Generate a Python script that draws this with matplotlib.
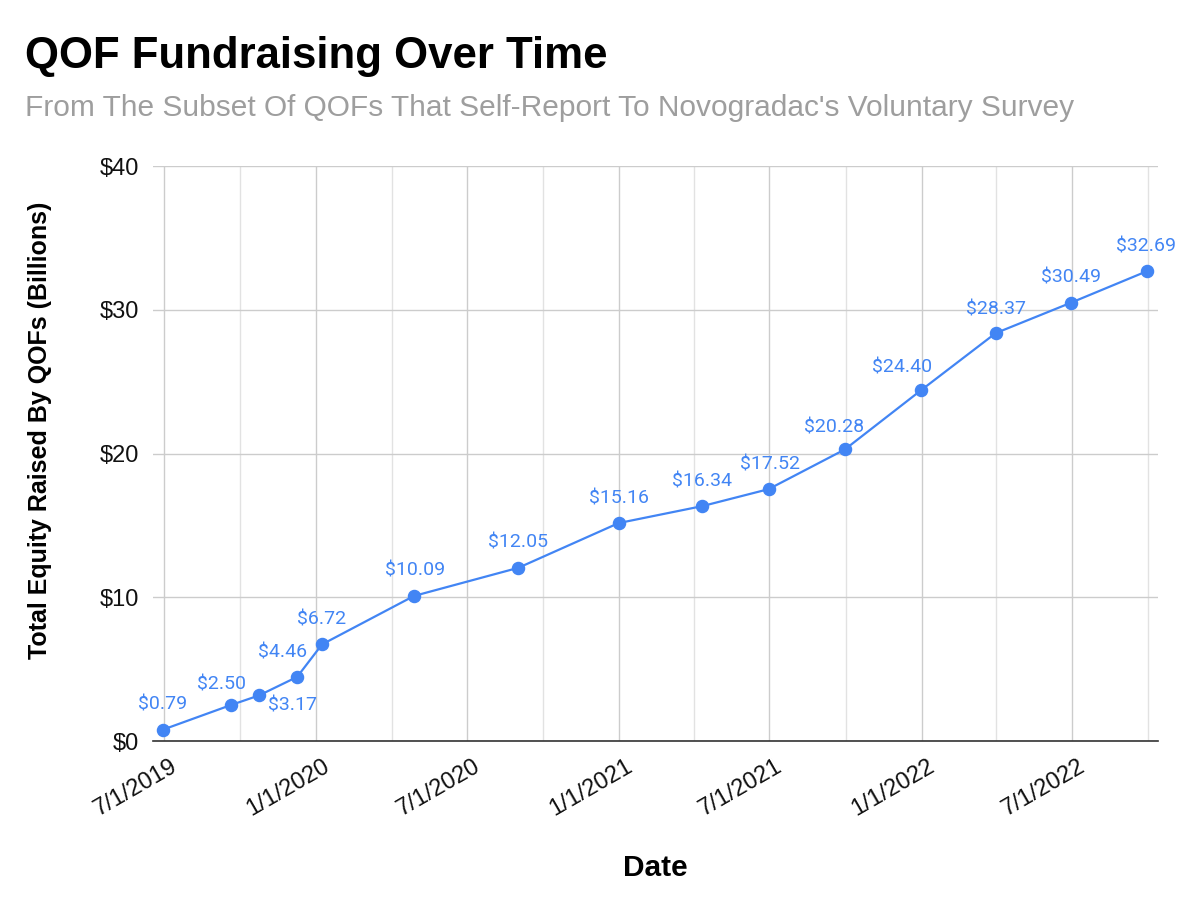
import matplotlib
matplotlib.use("Agg")
import matplotlib.pyplot as plt
import matplotlib.dates as mdates
import matplotlib.transforms as mtransforms
from matplotlib.ticker import FixedLocator
import datetime as dt

# ---- data ----
dates = ["2019-06-30", "2019-09-20", "2019-10-24", "2019-12-09", "2020-01-08",
         "2020-04-28", "2020-09-01", "2020-12-31", "2021-04-11", "2021-06-30",
         "2021-09-30", "2021-12-31", "2022-03-31", "2022-06-30", "2022-09-30"]
values = [0.79, 2.50, 3.17, 4.46, 6.72, 10.09, 12.05, 15.16, 16.34, 17.52,
          20.28, 24.40, 28.37, 30.49, 32.69]
tick_dates = ["2019-07-01", "2020-01-01", "2020-07-01", "2021-01-01",
              "2021-07-01", "2022-01-01", "2022-07-01"]
tick_labels = ["7/1/2019", "1/1/2020", "7/1/2020", "1/1/2021",
               "7/1/2021", "1/1/2022", "7/1/2022"]
minor_dates = ["2019-10-01", "2020-04-01", "2020-10-01", "2021-04-01",
               "2021-10-01", "2022-04-01", "2022-10-01"]
y_ticks = [0, 10, 20, 30, 40]
y_labels = ["$0", "$10", "$20", "$30", "$40"]

# label offsets in pixels (dx, dy) from point to label centre
label_offsets = [(0, 25), (-9, 21), (33, -10), (-15, 24), (0, 25),
                 (1, 25), (0, 25), (0, 25), (0, 25), (1, 25),
                 (-11, 22), (-19, 23), (0, 24), (0, 25), (-1, 25)]

def d(s):
    return dt.datetime.strptime(s, "%Y-%m-%d")

x = [d(s) for s in dates]

BLUE = "#4285F4"
plt.rcParams["font.family"] = ["Liberation Sans", "DejaVu Sans"]

fig = plt.figure(figsize=(12, 9), dpi=100)
ax = fig.add_axes([153/1200, 1 - 741/900, (1158-153)/1200, (741-166)/900])

ax.plot(x, values, color=BLUE, lw=1.6, marker="o", ms=8.7, zorder=3, clip_on=False)

for xi, v, (dx, dy) in zip(x, values, label_offsets):
    ax.annotate(f"${v:.2f}", (xi, v), xytext=(dx, dy), textcoords="offset pixels",
                ha="center", va="center", color=BLUE, fontsize=14,
                family=["Roboto", "DejaVu Sans"], zorder=4)

ax.set_xlim(d("2019-06-18"), d("2022-10-13"))
ax.set_ylim(0, 40)

ax.xaxis.set_major_locator(FixedLocator([mdates.date2num(d(s)) for s in tick_dates]))
ax.xaxis.set_minor_locator(FixedLocator([mdates.date2num(d(s)) for s in minor_dates]))
ax.set_xticklabels(tick_labels)
ax.set_yticks(y_ticks)
ax.set_yticklabels(y_labels)

ax.grid(True, which="major", axis="both", color="#cccccc", lw=1)
ax.grid(True, which="minor", axis="x", color="#e2e2e2", lw=1)
ax.set_axisbelow(True)

for s in ["top", "right", "left"]:
    ax.spines[s].set_visible(False)
ax.spines["bottom"].set_color("#333333")
ax.spines["bottom"].set_linewidth(1.2)

ax.tick_params(axis="both", which="both", length=0)
ax.tick_params(axis="y", labelsize=17, pad=10, colors="#111111")
ax.tick_params(axis="x", labelsize=17, pad=10.5, colors="#111111")
shift = mtransforms.ScaledTranslation(6/100, 0, fig.dpi_scale_trans)
for lbl in ax.get_xticklabels():
    lbl.set_rotation(30)
    lbl.set_ha("right")
    lbl.set_va("top")
    lbl.set_rotation_mode("anchor")
    lbl.set_transform(lbl.get_transform() + shift)

fig.text(25/1200, 1 - 68/900, "QOF Fundraising Over Time", fontsize=31.5,
         fontweight="bold", color="#000000", ha="left", va="baseline")
fig.text(25/1200, 1 - 116/900,
         "From The Subset Of QOFs That Self-Report To Novogradac's Voluntary Survey",
         fontsize=21.5, color="#9e9e9e", ha="left", va="baseline")
fig.text(40/1200, 1 - 430/900, "Total Equity Raised By QOFs (Billions)",
         fontsize=18, fontweight="bold", rotation=90, ha="center", va="center")
fig.text(655/1200, 1 - 868/900, "Date", fontsize=21.5, fontweight="bold",
         ha="center", va="center")

fig.savefig("out.png", dpi=100, facecolor="white")
